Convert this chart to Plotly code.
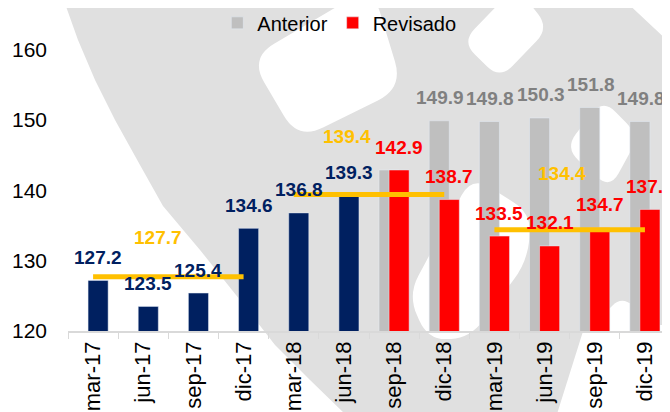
import math
import plotly.graph_objects as go

# ---------------- data ----------------
categorias = ["mar-17", "jun-17", "sep-17", "dic-17", "mar-18", "jun-18",
              "sep-18", "dic-18", "mar-19", "jun-19", "sep-19", "dic-19"]

observado_cat = ["mar-17", "jun-17", "sep-17", "dic-17", "mar-18", "jun-18"]
observado = [127.2, 123.5, 125.4, 134.6, 136.8, 139.3]

proy_cat = ["sep-18", "dic-18", "mar-19", "jun-19", "sep-19", "dic-19"]
anterior = [142.9, 149.9, 149.8, 150.3, 151.8, 149.8]
anterior_rotulo = [False, True, True, True, True, True]
revisado = [142.9, 138.7, 133.5, 132.1, 134.7, 137.3]

promedio_desde = ["mar-17", "mar-18", "mar-19"]
promedio_hasta = ["dic-17", "dic-18", "dic-19"]
promedio = [127.7, 139.4, 134.4]

# ---------------- styles ----------------
NAVY = "#002060"
RED = "#FF0000"
GRAY = "#BFBFBF"
GRAY_TXT = "#808080"
YELLOW = "#FFC000"
WM = "#E0E0E0"
FONT = "Liberation Sans, Arial, sans-serif"

# the page body has an 8px default margin: compensate so the plot lands
# at the intended window position
OFF = 8
W, H = 670, 412
PL, PR, PT, PB = 68, 670, 8, 331          # plot area in window pixels
ML, MT = PL - OFF, PT - OFF
MR = W - (PR - OFF)
MB = H - (PB - OFF)
Y0 = 120
PX_PER_UNIT = 7.03
Y1 = Y0 + (PB - PT) / PX_PER_UNIT

fig = go.Figure()

fig.add_trace(go.Bar(x=proy_cat, y=anterior, name="Anterior", marker_color=GRAY,
                     offset=-0.3, width=0.4, showlegend=True))
fig.add_trace(go.Bar(x=proy_cat, y=revisado, name="Revisado", marker_color=RED,
                     offset=-0.1, width=0.4, showlegend=True))
fig.add_trace(go.Bar(x=observado_cat, y=observado, name="Observado", marker_color=NAVY,
                     offset=-0.1, width=0.4, showlegend=False))

for d, h, p in zip(promedio_desde, promedio_hasta, promedio):
    fig.add_trace(go.Scatter(x=[d, h], y=[p, p], mode="lines",
                             line=dict(color=YELLOW, width=5), showlegend=False,
                             hoverinfo="skip"))

ann = []
lab_font = dict(family=FONT, size=19, weight="bold")
LAB_DY = 23
for c, v in zip(observado_cat, observado):
    ann.append(dict(x=c, y=v, text=f"{v:.1f}", showarrow=False, xshift=5, yshift=LAB_DY,
                    yanchor="middle", font=dict(lab_font, color=NAVY)))
for c, v in zip(proy_cat, revisado):
    ann.append(dict(x=c, y=v, text=f"{v:.1f}", showarrow=False, xshift=5, yshift=LAB_DY,
                    yanchor="middle", font=dict(lab_font, color=RED)))
for c, v, show in zip(proy_cat, anterior, anterior_rotulo):
    if show:
        ann.append(dict(x=c, y=v, text=f"{v:.1f}", showarrow=False, xshift=-4, yshift=LAB_DY,
                        yanchor="middle", font=dict(lab_font, color=GRAY_TXT)))
prom_lab_x = ["jun-17", "jun-18", "jun-19"]
prom_lab_dx = [15, 3, 17]
prom_lab_dy = [39, 58, 56]
for c, p, dx, dy in zip(prom_lab_x, promedio, prom_lab_dx, prom_lab_dy):
    ann.append(dict(x=c, y=p, text=f"{p:.1f}", showarrow=False, xshift=dx, yshift=dy,
                    yanchor="middle", font=dict(lab_font, color=YELLOW)))

# ---------------- watermark (decorative background, window pixels) ----------------
def to_paper(px, py):
    return ((px - PL) / (PR - PL), (PB - py) / (PB - PT))

def rounded_path(pts, r):
    n = len(pts)
    segs = []
    for i in range(n):
        p = pts[i]
        a = pts[i - 1]
        b = pts[(i + 1) % n]
        def toward(q):
            dx, dy = q[0] - p[0], q[1] - p[1]
            L = math.hypot(dx, dy)
            rr = min(r, L / 2.2)
            return (p[0] + dx / L * rr, p[1] + dy / L * rr)
        segs.append((toward(a), p, toward(b)))
    out = []
    for i, (s, p, e) in enumerate(segs):
        sx, sy = to_paper(*s)
        px_, py_ = to_paper(*p)
        ex, ey = to_paper(*e)
        out.append(("M" if i == 0 else "L") + f"{sx:.4f},{sy:.4f}")
        out.append(f"Q{px_:.4f},{py_:.4f} {ex:.4f},{ey:.4f}")
    return " ".join(out) + " Z"

def poly_path(pts):
    out = []
    for i, p in enumerate(pts):
        x, y = to_paper(*p)
        out.append(("M" if i == 0 else "L") + f"{x:.4f},{y:.4f}")
    return " ".join(out) + " Z"

wm_outer = [(63, -2), (78, 40), (95, 80), (115, 120), (140, 165), (163, 206), (200, 250),
            (240, 300), (275, 345), (310, 380), (345, 414), (557, 414), (585, 325),
            (672, 325), (672, 45), (622, -2)]
wm_holes = [
    ([(372, -14), (403, 88), (298, 140), (250, 58)], 28),
    ([(516, -14), (549, 28), (500, 79), (462, 42)], 18),
    ([(603, 99), (639, 136), (610, 189), (565, 148)], 18),
    ([(472, 176), (532, 214), (527, 262), (470, 338), (428, 340), (408, 295)], 22),
    ([(622, 296), (648, 320), (622, 344), (598, 320)], 14),
]
shapes = [dict(type="path", path=poly_path(wm_outer), xref="paper", yref="paper",
               fillcolor=WM, line=dict(width=0), layer="below")]
for pts, r in wm_holes:
    shapes.append(dict(type="path", path=rounded_path(pts, r), xref="paper", yref="paper",
                       fillcolor="white", line=dict(width=0), layer="below"))

fig.update_layout(
    width=W, height=H,
    margin=dict(l=ML, r=MR, t=MT, b=MB, pad=0, autoexpand=False),
    paper_bgcolor="white", plot_bgcolor="rgba(0,0,0,0)",
    barmode="overlay",
    showlegend=True,
    legend=dict(orientation="h", x=0.248, xanchor="left", y=0.954, yanchor="middle",
                font=dict(family=FONT, size=20, color="#000000"),
                bgcolor="rgba(0,0,0,0)", traceorder="normal", itemwidth=30),
    xaxis=dict(type="category", categoryorder="array", categoryarray=categorias,
               range=[-0.5, 11.5], showgrid=False, showline=True, linecolor="#D9D9D9",
               linewidth=1.5, ticks="outside", ticklen=6, tickcolor="#D9D9D9",
               tickson="boundaries", tickangle=-90, automargin=False,
               tickfont=dict(family=FONT, size=22, color="#000000"), fixedrange=True),
    yaxis=dict(range=[Y0, Y1], tickvals=[120, 130, 140, 150, 160], showgrid=False,
               zeroline=False, showline=False, ticks="", automargin=False,
               ticklabelstandoff=20,
               tickfont=dict(family=FONT, size=21, color="#000000")),
    annotations=ann,
    shapes=shapes,
)

fig.write_html("out.html")
